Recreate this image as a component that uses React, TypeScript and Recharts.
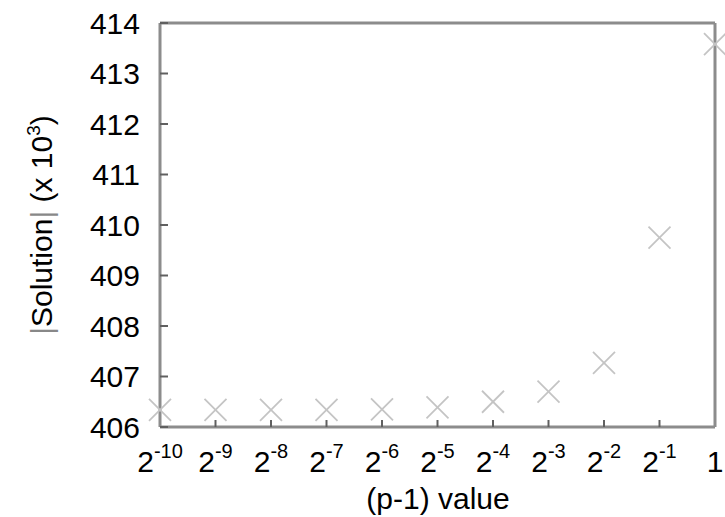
import { ScatterChart, Scatter, XAxis, YAxis } from "recharts"

// exponent of 2 for each (p-1) value, 0 means 2^0 = 1
const exponents = [-10, -9, -8, -7, -6, -5, -4, -3, -2, -1, 0]
// |Solution| in thousands
const solution = [406.34, 406.34, 406.34, 406.34, 406.35, 406.39, 406.5, 406.7, 407.27, 409.75, 413.58]
const yTicks = [406, 407, 408, 409, 410, 411, 412, 413, 414]

const data = exponents.map((e, i) => ({ e, value: solution[i] }))

const font = "Arial, 'Liberation Sans', Helvetica, sans-serif"

const PowerTick = (props: any) => {
  const { x, y, payload } = props
  const e = payload.value
  if (e === 0) {
    return (
      <text x={x} y={y + 42} textAnchor="middle" fontSize={30} fill="#000" stroke="none">
        1
      </text>
    )
  }
  return (
    <text x={x} y={y + 42} textAnchor="middle" fontSize={30} fill="#000" stroke="none">
      <tspan>2</tspan>
      <tspan dy={-14} fontSize={20}>
        {e}
      </tspan>
    </text>
  )
}

const blank = () => ""

const Cross = (props: any) => {
  const { cx, cy } = props
  const r = 11
  return (
    <g stroke="#c4c4c4" strokeWidth={1.8}>
      <line x1={cx - r} y1={cy - r} x2={cx + r} y2={cy + r} />
      <line x1={cx - r} y1={cy + r} x2={cx + r} y2={cy - r} />
    </g>
  )
}

export default function App() {
  return (
    <div style={{ position: "absolute", left: 0, top: 0, fontFamily: font }}>
      <ScatterChart width={725} height={517} margin={{ top: 22, right: 9, bottom: 0, left: 0 }}>
        <XAxis
          dataKey="e"
          type="number"
          domain={[-10, 0]}
          ticks={exponents}
          height={90}
          axisLine={{ stroke: "#8c8c8c", strokeWidth: 3 }}
          tickLine={{ stroke: "#606060", strokeWidth: 2 }}
          tickSize={-7}
          tickMargin={10}
          tick={<PowerTick />}
        />
        <XAxis
          xAxisId="top"
          orientation="top"
          type="number"
          domain={[-10, 0]}
          ticks={exponents}
          height={1}
          stroke="#606060"
          strokeWidth={2}
          axisLine={{ stroke: "#8c8c8c", strokeWidth: 3 }}
          tickSize={-7}
          tickFormatter={blank}
        />
        <YAxis
          dataKey="value"
          type="number"
          domain={[406, 414]}
          ticks={yTicks}
          width={160}
          stroke="#000"
          fontSize={30}
          axisLine={{ stroke: "#8c8c8c", strokeWidth: 3 }}
          tickLine={{ stroke: "#606060", strokeWidth: 2 }}
          tickSize={-8}
          tickMargin={28}
        />
        <YAxis
          yAxisId="right"
          orientation="right"
          type="number"
          domain={[406, 414]}
          ticks={yTicks}
          width={1}
          stroke="#606060"
          strokeWidth={2}
          axisLine={{ stroke: "#8c8c8c", strokeWidth: 3 }}
          tickSize={-8}
          tickFormatter={blank}
        />
        <Scatter data={data} shape={<Cross />} isAnimationActive={false} />
        <text x={438} y={509} textAnchor="middle" fontSize={30} fill="#000">
          (p-1) value
        </text>
        <text transform="translate(52, 225) rotate(-90)" textAnchor="middle" fontSize={30} fill="#000">
          <tspan fill="#888888">|</tspan>
          <tspan>Solution</tspan>
          <tspan fill="#888888">|</tspan>
          <tspan> (x 10</tspan>
          <tspan dy={-12} fontSize={19}>
            3
          </tspan>
          <tspan dy={12}>)</tspan>
        </text>
      </ScatterChart>
    </div>
  )
}
